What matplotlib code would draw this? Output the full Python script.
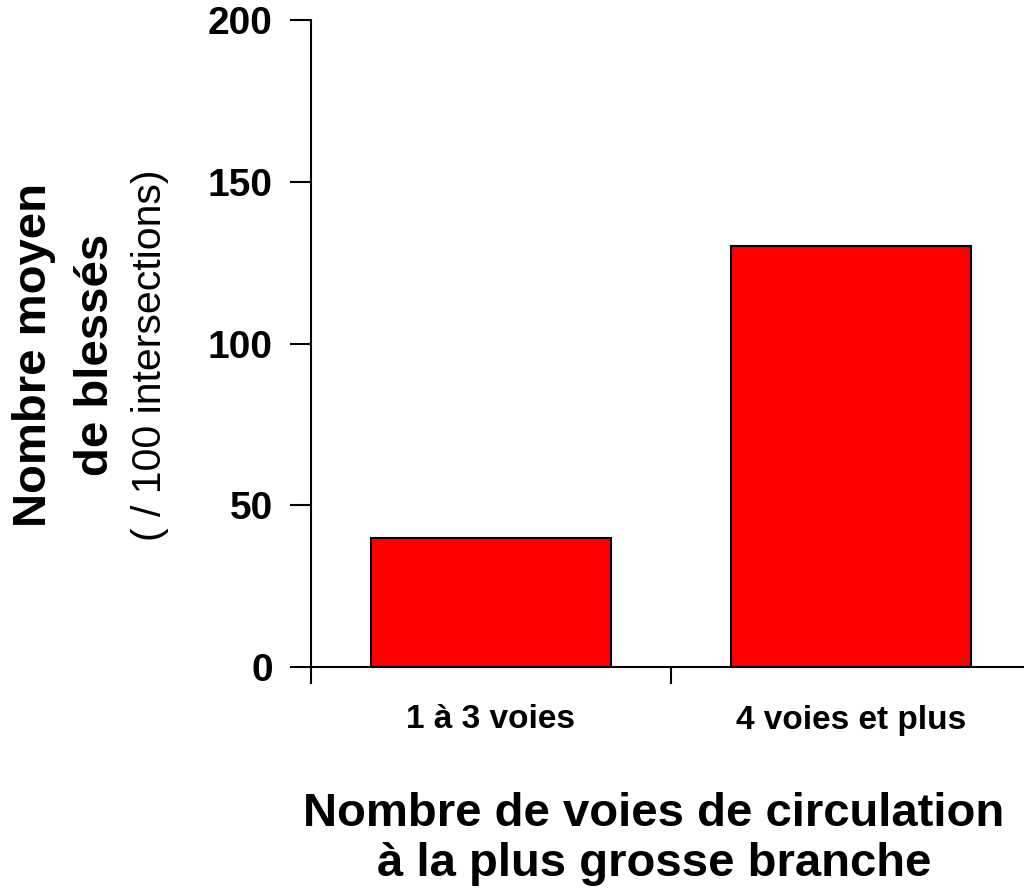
import matplotlib.pyplot as plt
import numpy as np

plt.rcParams["font.family"] = ["Liberation Sans", "DejaVu Sans"]

categories = ["1 à 3 voies", "4 voies et plus"]
values = [40, 130]

fig = plt.figure(figsize=(10.24, 8.94), dpi=100)
ax = fig.add_axes([311 / 1024, 1 - 667 / 894, 720 / 1024, 647 / 894])

x = np.arange(len(categories))
ax.bar(x, values, width=0.667, color="#ff0000", edgecolor="black", linewidth=1.5, zorder=3)

ax.set_xlim(-0.5, 1.5)
ax.set_ylim(0, 200)
ax.set_yticks([0, 50, 100, 150, 200])
ax.set_xticks([-0.5, 0.5, 1.5])
ax.set_xticklabels([])
ax.set_xticks(x, minor=True)
ax.set_xticklabels(categories, minor=True, fontsize=24, fontweight="bold")
ax.tick_params(axis="x", which="minor", length=0, pad=27)
ax.tick_params(axis="x", which="major", length=12, width=1.5, direction="out")
ax.tick_params(axis="y", length=15, width=1.5, direction="out", pad=12.5, labelsize=28)
for lbl in ax.get_yticklabels():
    lbl.set_fontweight("bold")

ax.spines["top"].set_visible(False)
ax.spines["right"].set_visible(False)
ax.spines["left"].set_linewidth(1.5)
ax.spines["bottom"].set_linewidth(1.5)

# y label: three rotated lines
fig.text(34 / 1024, 0.603, "Nombre moyen", rotation=90, ha="center", va="center",
         fontsize=34, fontweight="bold")
fig.text(96 / 1024, 0.603, "de blessés", rotation=90, ha="center", va="center",
         fontsize=34, fontweight="bold")
fig.text(150 / 1024, 0.603, "( / 100 intersections)", rotation=90, ha="center", va="center",
         fontsize=29.5)

# x label
fig.text(654 / 1024, 1 - 839 / 894, "Nombre de voies de circulation\nà la plus grosse branche",
         ha="center", va="center", fontsize=34, fontweight="bold", linespacing=1.15)

fig.savefig("out.png", dpi=100)
